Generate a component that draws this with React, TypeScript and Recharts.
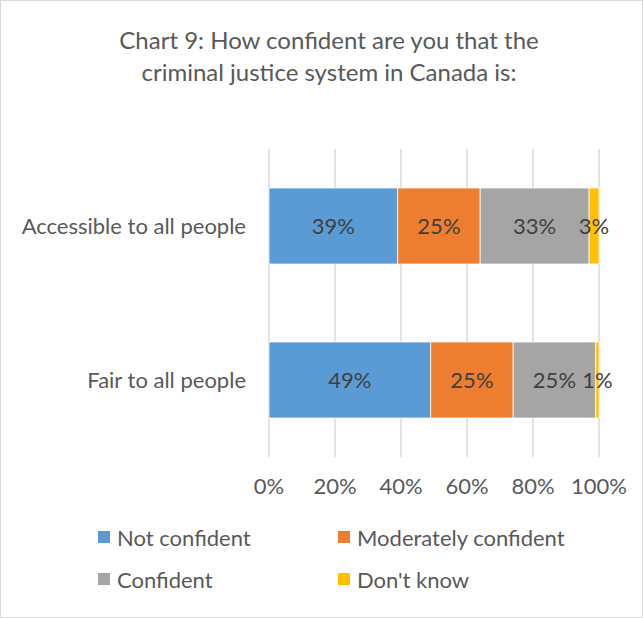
import { BarChart, Bar, XAxis, YAxis, CartesianGrid, LabelList } from "recharts";

const categories = ["Accessible to all people", "Fair to all people"];
const notConfident = [39, 49];
const moderatelyConfident = [25, 25];
const confident = [33, 25];
const dontKnow = [3, 1];
const xTicks = [0, 20, 40, 60, 80, 100];

const series = [
  { key: "notConfident", name: "Not confident", color: "#5B9BD5", values: notConfident },
  { key: "moderately", name: "Moderately confident", color: "#ED7D31", values: moderatelyConfident },
  { key: "confident", name: "Confident", color: "#A5A5A5", values: confident },
  { key: "dontKnow", name: "Don't know", color: "#FFC000", values: dontKnow },
];

const data = categories.map((c, i) => {
  const row: Record<string, string | number> = { category: c };
  series.forEach((s) => (row[s.key] = s.values[i]));
  return row;
});

const font = "Lato, 'Open Sans', sans-serif";
const textColor = "#595959";

export default function App() {
  return (
    <div
      style={{
        position: "absolute",
        left: 0,
        top: 0,
        width: 643,
        height: 618,
        boxSizing: "border-box",
        border: "1px solid #D9D9D9",
        background: "#fff",
        fontFamily: font,
      }}
    >
      <div
        style={{
          position: "absolute",
          top: 23,
          left: 0,
          width: 656,
          textAlign: "center",
          fontSize: 24,
          lineHeight: "32px",
          color: textColor,
        }}
      >
        Chart 9: How confident are you that the
        <br />
        criminal justice system in Canada is:
      </div>
      <div style={{ position: "absolute", left: -1, top: 0 }}>
        <BarChart
          width={643}
          height={618}
          data={data}
          layout="vertical"
          margin={{ top: 148, right: 44, bottom: 122, left: 0 }}
          barSize={76}
        >
          <CartesianGrid horizontal={false} stroke="#D9D9D9" strokeWidth={1.5} />
          <XAxis
            type="number"
            domain={[0, 100]}
            ticks={xTicks}
            tickFormatter={(v) => `${v}%`}
            axisLine={false}
            tickLine={false}
            tickSize={0}
            tickMargin={21}
            height={40}
            tick={{ fill: textColor, fontSize: 22, fontFamily: font }}
          />
          <YAxis
            type="category"
            dataKey="category"
            width={269}
            axisLine={false}
            tickLine={false}
            tickSize={0}
            tickMargin={23}
            tick={{ fill: textColor, fontSize: 22, fontFamily: font }}
          />
          {series.map((s) => (
            <Bar
              key={s.key}
              dataKey={s.key}
              stackId="a"
              fill={s.color}
              stroke="#fff"
              strokeWidth={0.75}
              isAnimationActive={false}
            >
              <LabelList
                dataKey={s.key}
                position="center"
                formatter={(v: number) => `${v}%`}
                fill="#404040"
                fontSize={22}
                fontFamily={font}
              />
            </Bar>
          ))}
        </BarChart>
      </div>
      {series.map((s, i) => (
        <div
          key={s.key}
          style={{
            position: "absolute",
            left: i % 2 === 0 ? 97 : 337,
            top: i < 2 ? 522 : 564,
            height: 28,
            display: "flex",
            alignItems: "center",
            fontSize: 22,
            color: textColor,
            whiteSpace: "nowrap",
          }}
        >
          <span style={{ width: 12, height: 12, background: s.color, marginRight: 7, display: "inline-block" }} />
          {s.name}
        </div>
      ))}
    </div>
  );
}
